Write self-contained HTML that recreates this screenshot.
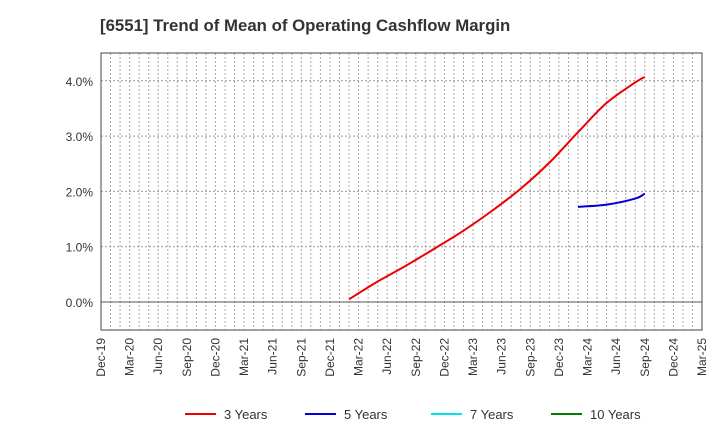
<!DOCTYPE html>
<html><head><meta charset="utf-8"><style>
body{margin:0;background:#fff;font-family:"Liberation Sans",Arial,sans-serif}
svg text{font-family:"Liberation Sans",Arial,sans-serif}
</style></head><body>
<svg id="chart" width="720" height="440" xmlns="http://www.w3.org/2000/svg">
<text x="100" y="31" font-size="16.8" font-weight="bold" fill="#333">[6551]  Trend of Mean of Operating Cashflow Margin</text>
<g id="grid"></g><g id="axes"></g><g id="series"></g>
<g font-size="13" fill="#333">
<g><line x1="185" y1="414" x2="216" y2="414" stroke="#e00" stroke-width="2"/><text x="224" y="419">3 Years</text></g>
<g><line x1="305" y1="414" x2="336" y2="414" stroke="#0000dd" stroke-width="2"/><text x="344" y="419">5 Years</text></g>
<g><line x1="431" y1="414" x2="462" y2="414" stroke="#00e5ee" stroke-width="2"/><text x="470" y="419">7 Years</text></g>
<g><line x1="551" y1="414" x2="582" y2="414" stroke="#008000" stroke-width="2"/><text x="590" y="419">10 Years</text></g>
</g>
</svg>
<script>
const xLabels=["Dec-19","Mar-20","Jun-20","Sep-20","Dec-20","Mar-21","Jun-21","Sep-21","Dec-21","Mar-22","Jun-22","Sep-22","Dec-22","Mar-23","Jun-23","Sep-23","Dec-23","Mar-24","Jun-24","Sep-24","Dec-24","Mar-25"];
const yTicks=[0,1,2,3,4];
const yTickLabels=["0.0%","1.0%","2.0%","3.0%","4.0%"];
const red3Idx=[8.667,9.667,10.667,11.667,12.667,13.667,14.667,15.667,16.667,17.667,18.667,19];
const red3Vals=[0.05,0.37,0.66,0.97,1.29,1.65,2.05,2.52,3.07,3.6,3.97,4.07];
const blue5Idx=[16.667,17.667,18.667,19];
const blue5Vals=[1.72,1.76,1.87,1.96];
const L=101,R=702,T=53,B=330;
const NS="http://www.w3.org/2000/svg";
const xs=i=>L+i*(R-L)/(xLabels.length-1);
const ys=v=>302-v*55.3;
function mk(tag,attrs,parent){const e=document.createElementNS(NS,tag);for(const k in attrs)e.setAttribute(k,attrs[k]);parent.appendChild(e);return e;}
const grid=document.getElementById('grid'),axes=document.getElementById('axes'),ser=document.getElementById('series');
for(let m=1;m<(xLabels.length-1)*3;m++){const x=L+m*(R-L)/((xLabels.length-1)*3);
 const l=mk('line',{x1:x,x2:x,y1:T,y2:B,stroke:'#aaa','stroke-dasharray':'2,2','stroke-width':1},grid);
 
 }
yTicks.forEach((v,i)=>{const y=ys(v);
 const l=mk('line',{x1:L,x2:R,y1:y,y2:y,stroke:v===0?'#555':'#999','stroke-dasharray':v===0?'':'2,2','stroke-width':1},grid);
 
 
 const t=mk('text',{x:L-8,y:y+5,'text-anchor':'end','font-size':12,fill:'#333'},axes);t.textContent=yTickLabels[i];
 
 });
xLabels.forEach((s,i)=>{const x=xs(i);
 const t=mk('text',{x:0,y:0,transform:`translate(${x+4},${B+8}) rotate(-90)`,'text-anchor':'end','font-size':12,fill:'#333'},axes);t.textContent=s;
 
 });
const frame=mk('rect',{x:L,y:T,width:R-L,height:B-T,fill:'none',stroke:'#444','stroke-width':1},axes);


function path(idx,vals){const p=idx.map((i,k)=>[xs(i),ys(vals[k])]);let d=`M${p[0][0]},${p[0][1]}`;
 for(let k=0;k<p.length-1;k++){const p0=p[k-1]||p[k],p1=p[k],p2=p[k+1],p3=p[k+2]||p2;
  d+=` C${p1[0]+(p2[0]-p0[0])/6},${p1[1]+(p2[1]-p0[1])/6} ${p2[0]-(p3[0]-p1[0])/6},${p2[1]-(p3[1]-p1[1])/6} ${p2[0]},${p2[1]}`;}
 return d;}
const r=mk('path',{d:path(red3Idx,red3Vals),fill:'none',stroke:'#e00','stroke-width':2},ser);


const b=mk('path',{d:path(blue5Idx,blue5Vals),fill:'none',stroke:'#0000dd','stroke-width':2},ser);


</script>
</body></html>
